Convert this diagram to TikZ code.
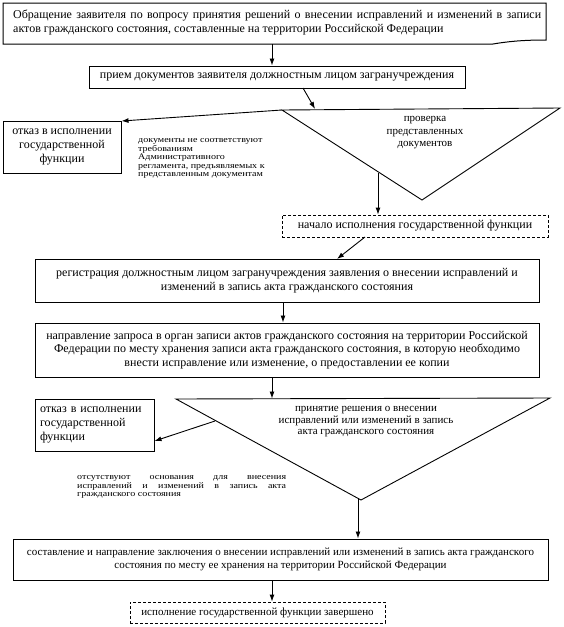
\documentclass[tikz,border=0pt]{standalone}
\usepackage{fontspec}
\setmainfont{Liberation Serif}
\newfontfamily\notefont[FakeStretch=1.18]{Liberation Serif}
\usetikzlibrary{arrows.meta}
\tikzset{
  box/.style={draw, line width=1pt, inner sep=0pt, align=center, font=\fontsize{12}{13.8}\selectfont},
  dbox/.style={box, dash pattern=on 3pt off 2pt, line width=0.9pt},
  tri/.style={draw, line width=0.9pt},
  arr/.style={-{Latex[length=7pt,width=5pt]}, line width=0.9pt},
  note/.style={font=\notefont\fontsize{8.5}{8.5}\selectfont, inner sep=0pt},
  lbl/.style={font=\fontsize{11}{12.5}\selectfont, inner sep=0pt, align=center}
}
\begin{document}
\begin{tikzpicture}[x=1pt,y=-1pt]
\useasboundingbox (0,0) rectangle (563,627);
% top document box
\draw[line width=1pt] (3,3) -- (546,3) -- (546,40) .. controls (526,40) and (511,41) .. (493,44) -- (3,44) -- cycle;
\node[inner sep=0pt, text width=528pt, align=justify, anchor=west, font=\fontsize{12}{14}\selectfont] (top) at (13,22.5)
 {Обращение заявителя по вопросу принятия решений о внесении исправлений и изменений в записи\linebreak актов гражданского состояния, составленные на территории Российской Федерации};
\coordinate (topout) at (272,44);
% box 2
\node[box, minimum width=376pt, minimum height=22pt] (b2) at (277,77) {прием документов заявителя должностным лицом загранучреждения};
% triangle 1
\coordinate (t1a) at (282,110);
\coordinate (t1b) at (560,108);
\coordinate (t1c) at (422,200);
\draw[tri] (t1a) -- (t1b) -- (t1c) -- cycle;
\node[lbl] (t1txt) at (425,133) {проверка\\представленных\\документов};
% refusal 1
\node[box, minimum width=118pt, minimum height=52pt] (r1) at (62,147) {отказ в исполнении\\государственной\\функции};
\node[note, anchor=west, align=left] (n1) at (138,158.5) {документы не соответствуют\\требованиям\\Административного\\регламента, предъявляемых к\\представленным документам};
% dashed box 1
\node[dbox, minimum width=266pt, minimum height=22pt] (d1) at (415,226) {начало исполнения государственной функции};
% box 3
\node[box, minimum width=504pt, minimum height=43pt] (b3) at (287,280.5) {регистрация должностным лицом загранучреждения заявления о внесении исправлений и\\изменений в запись акта гражданского состояния};
% box 4
\node[box, minimum width=504pt, minimum height=54pt] (b4) at (287,350) {направление запроса в орган записи актов гражданского состояния на территории Российской\\Федерации по месту хранения записи акта гражданского состояния, в которую необходимо\\внести исправление или изменение, о предоставлении ее копии};
% triangle 2
\coordinate (t2a) at (176,399);
\coordinate (t2b) at (550,398);
\coordinate (t2c) at (361,500);
\draw[tri] (t2a) -- (t2b) -- (t2c) -- cycle;
\node[lbl, font=\fontsize{11}{11.5}\selectfont] (t2txt) at (366,422) {принятие решения о внесении\\исправлений или изменений в запись\\акта гражданского состояния};
% refusal 2
\node[box, minimum width=119pt, minimum height=52pt, align=left, text width=109pt] (r2) at (94.5,425) {отказ в исполнении\\государственной\\функции};
\node[note, anchor=west, text width=209pt, align=justify] (n2) at (77,487) {отсутствуют основания для внесения\linebreak исправлений и изменений в запись акта\linebreak гражданского состояния};
% box 5
\node[box, minimum width=535pt, minimum height=41pt, font=\fontsize{11}{13.5}\selectfont] (b5) at (280.5,559.5) {составление и направление заключения о внесении исправлений или изменений в запись акта гражданского\\состояния по месту ее хранения на территории Российской Федерации};
% dashed box 2
\node[dbox, minimum width=255pt, minimum height=21pt, font=\fontsize{11}{13}\selectfont] (d2) at (257.5,612.5) {исполнение государственной функции завершено};
% connectors
\draw[arr] (topout) -- (b2.north -| topout);
\coordinate (b2out) at (303,88);
\coordinate (t1in) at (315,108.9);
\draw[arr] (b2out) -- (t1in);
\draw[arr] (t1a) -- (r1.north east |- 0,121);
\coordinate (t1out) at (378,173);
\draw[arr] (t1out) -- (d1.north -| t1out);
\coordinate (d1out) at (365,237);
\coordinate (b3in) at (337,259);
\draw[arr] (d1out) -- (b3in);
\draw[arr] (b3.south -| 283,0) -- (b4.north -| 283,0);
\draw[arr] (b4.south -| 272,0) -- (272,398.5);
\coordinate (t2side) at (215,421);
\draw[arr] (t2side) -- (r2.east |- 0,441);
\coordinate (t2out) at (358,498);
\draw[arr] (t2out) -- (b5.north -| t2out);
\draw[arr] (b5.south -| 272,0) -- (d2.north -| 272,0);
\end{tikzpicture}
\end{document}
